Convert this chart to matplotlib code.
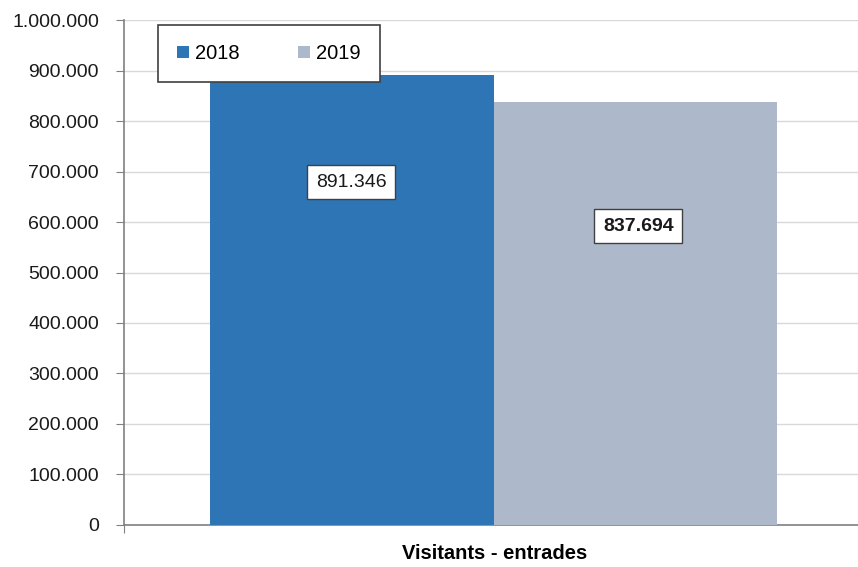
import matplotlib
matplotlib.use('Agg')
import matplotlib.pyplot as plt
from matplotlib.ticker import FuncFormatter, MultipleLocator

# Data
category = 'Visitants - entrades'
years = ['2018', '2019']
values = [891346, 837694]
colors = ['#2E75B6', '#ADB9CA']

plt.rcParams['font.family'] = ['Liberation Sans', 'DejaVu Sans']


def dotted(v, pos=None):
    return f'{int(v):,}'.replace(',', '.')


fig = plt.figure(figsize=(8.58, 5.67), dpi=100)
ax = fig.add_axes([0.1445, 0.0741, 0.8555, 0.8906])

width = 1.0
offsets = [-width / 2, width / 2]
for yr, v, c, off in zip(years, values, colors, offsets):
    ax.bar(off, v, width, color=c, label=yr, zorder=3)

ax.set_xlim(-1.305, 1.284)
ax.set_ylim(0, 1000000)
ax.yaxis.set_major_locator(MultipleLocator(100000))
ax.yaxis.set_major_formatter(FuncFormatter(dotted))
ax.grid(True, axis='y', color='#D9D9D9', linewidth=1, zorder=0)

for s in ['top', 'right']:
    ax.spines[s].set_visible(False)
ax.spines['left'].set_color('#808080')
ax.spines['bottom'].set_color('#808080')
ax.spines['left'].set_linewidth(1.2)
ax.spines['bottom'].set_linewidth(1.2)
ax.tick_params(axis='y', labelsize=14, length=6, pad=12, color='#808080', labelcolor='#1a1a1a')
ax.set_xticks([ax.get_xlim()[0]])
ax.set_xticklabels([''])
ax.tick_params(axis='x', length=6, color='#808080')
ax.set_xlabel(category, fontsize=14.5, fontweight='bold', labelpad=4, x=0.505)

# data labels (custom placement as in the original)
label_pos = [(-0.503, 679000, 'normal'), (0.509, 592000, 'bold')]
for v, (lx, ly, fw) in zip(values, label_pos):
    ax.text(lx, ly, dotted(v), ha='center', va='center', fontsize=14, fontweight=fw,
            color='#1a1a1a', zorder=5,
            bbox=dict(boxstyle='square,pad=0.45', facecolor='white', edgecolor='#404040',
                      linewidth=1))

leg = ax.legend(ncol=2, loc='upper left', bbox_to_anchor=(0.046, 0.99), fontsize=14.5,
                frameon=True, fancybox=False, shadow=False, framealpha=1,
                handlelength=0.6, handleheight=0.6, columnspacing=2.9,
                handletextpad=0.3, borderpad=0.95, borderaxespad=0)
leg.get_frame().set_edgecolor('#404040')
leg.get_frame().set_linewidth(1.2)
leg.set_zorder(6)

fig.savefig('out.png', dpi=100)
